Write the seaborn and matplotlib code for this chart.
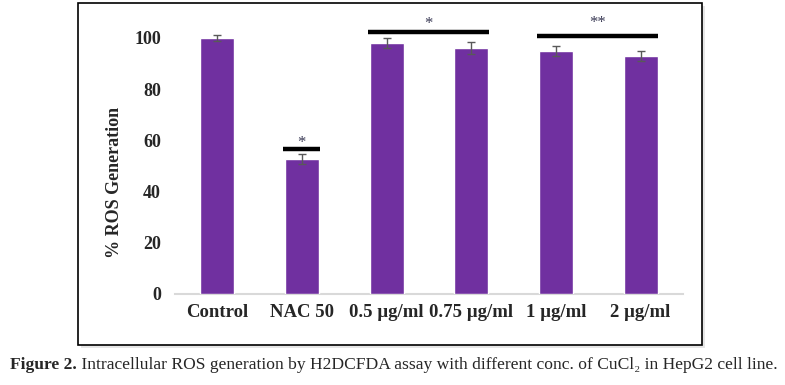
import matplotlib
matplotlib.use("Agg")
import matplotlib.pyplot as plt
import seaborn as sns
import pandas as pd
from matplotlib.patches import Rectangle

categories = ["Control", "NAC 50", "0.5 µg/ml", "0.75 µg/ml", "1 µg/ml", "2 µg/ml"]
values = [100.0, 52.7, 98.0, 96.0, 94.8, 93.0]
errors = [1.0, 2.0, 2.0, 2.3, 2.0, 2.0]
yticks = [0, 20, 40, 60, 80, 100]
sig_groups = [(1, 1, "*", 56.6, 55.7), (2, 3, "*", 102.3, 102.5), (4, 5, "**", 100.8, 102.9)]
ylabel = "% ROS Generation"
caption_bold = "Figure 2."
caption_rest = " Intracellular ROS generation by H2DCFDA assay with different conc. of CuCl\u2082 in HepG2 cell line."

sns.set_theme(style="white")
plt.rcParams["font.family"] = ["Liberation Serif", "DejaVu Serif"]

df = pd.DataFrame({"cat": categories, "val": values})

fig = plt.figure(figsize=(7.85, 3.85), dpi=100)
ax = fig.add_axes([0.2229, 0.2364, 0.6471, 0.7447])

sns.barplot(data=df, x="cat", y="val", color="#7030A0", saturation=1,
            width=0.4, errorbar=None, ax=ax, zorder=3)
ax.errorbar(range(len(categories)), values, yerr=errors, fmt="none",
            ecolor="#595959", elinewidth=1.0, capsize=3, capthick=1.0, zorder=4)

ax.set_xlim(-0.5, len(categories) - 0.5)
ax.set_ylim(0, 112)
ax.set_yticks(yticks)
ax.set_yticklabels([str(t) for t in yticks], fontweight="bold", fontsize=13)
ax.set_xticks(range(len(categories)))
ax.set_xticklabels(categories, fontweight="bold", fontsize=13.5)
ax.tick_params(axis="y", length=0, pad=10)
ax.tick_params(axis="x", length=0, pad=7)
ax.set_xlabel("")
ax.set_ylabel(ylabel, fontweight="bold", fontsize=13)
ax.yaxis.set_label_coords(-0.102, 0.39)
for s in ["top", "right", "left"]:
    ax.spines[s].set_visible(False)
ax.spines["bottom"].set_color("#d9d9d9")
ax.spines["bottom"].set_linewidth(1.5)
ax.patch.set_alpha(0)

for i0, i1, star, yl, ys in sig_groups:
    x0 = i0 - 0.22
    x1 = i1 + 0.21
    ax.plot([x0, x1], [yl, yl], color="black", lw=3.2, clip_on=False, zorder=5,
            solid_capstyle="butt")
    ax.text((x0 + x1) / 2, ys, star, ha="center", va="bottom",
            fontsize=12, color="#3a3a55", clip_on=False)

# outer frame with soft shadow
sh = Rectangle((0.0994 + 0.004, 0.1039 - 0.008), 0.7949, 0.8883,
               transform=fig.transFigure, facecolor="#e6e6e6", edgecolor="none",
               zorder=-3)
fig.patches.append(sh)
frame = Rectangle((0.0994, 0.1039), 0.7949, 0.8883, transform=fig.transFigure,
                  facecolor="white", edgecolor="black", lw=1.2, zorder=-2)
fig.patches.append(frame)

t1 = fig.text(0.013, 0.052, caption_bold, fontweight="bold", fontsize=12.6,
              va="center", ha="left")
fig.canvas.draw()
bb = t1.get_window_extent()
x_end = bb.x1 / fig.bbox.width
fig.text(x_end, 0.052, caption_rest, fontsize=12.6, va="center", ha="left")

fig.savefig("out.png", dpi=100)
